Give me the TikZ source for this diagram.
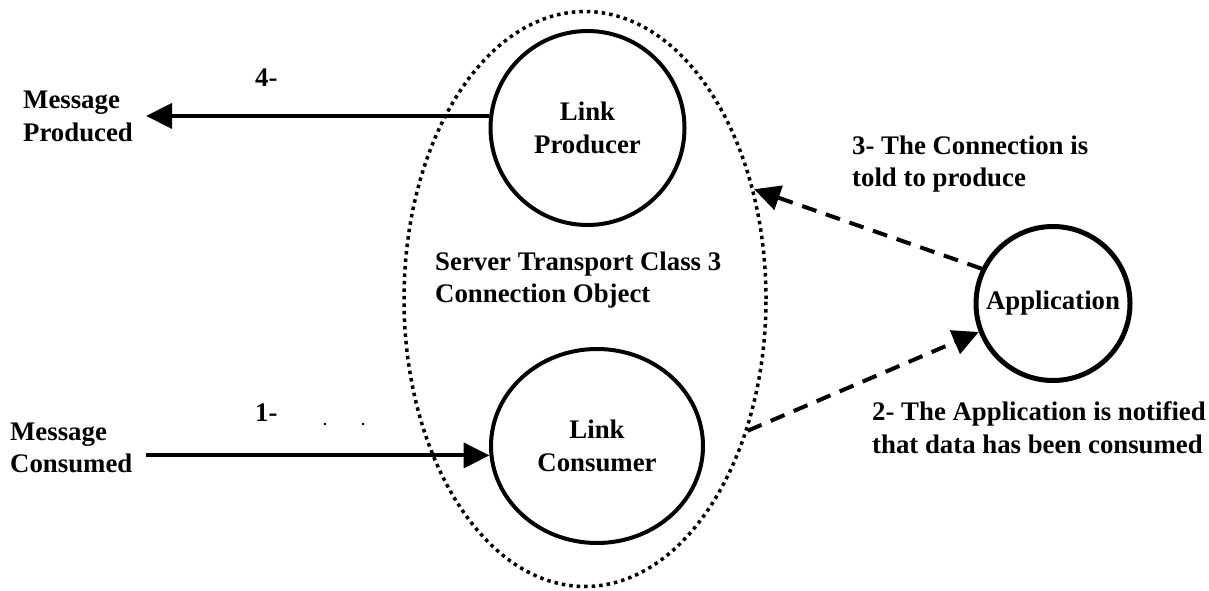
\documentclass[tikz,border=0pt]{standalone}
\usepackage{fontspec}
\setmainfont{Liberation Serif}
\usetikzlibrary{shapes.geometric}
\usetikzlibrary{arrows.meta}
\tikzset{	every node/.style={
		font=\fontsize{26.8pt}{32.5pt}\selectfont\bfseries},
	link/.style={
		draw, ellipse,
		line width=4pt,
		outer sep=2pt,
		align=center},
	txt/.style={inner sep=0pt, align=left, anchor=base west},
	msg/.style={txt, inner xsep=13pt},
	flow/.style={
		draw,
		line width=4pt,
		-{Triangle[length=26pt,width=25pt]}},
	signal/.style={flow, dash pattern=on 15pt off 10pt}
}

\begin{document}
\begin{tikzpicture}[x=1pt, y=-1pt]
	\useasboundingbox (0,0) rectangle (1209,591);
	\node[draw, ellipse, line width=3.5pt, dash pattern=on 3.5pt off 4pt, outer sep=1.75pt,
		minimum width=362pt, minimum height=575pt] (STC) at (585,299) {};
	\node[link, minimum width=194pt, minimum height=194pt] (LP) at (587.5,128) {Link\\Producer};
	\node[link, minimum width=212pt, minimum height=194pt] (LC) at (597,446) {Link\\Consumer};
	\node[link, circle, inner sep=0pt, line width=5pt, outer sep=2.5pt,
		minimum size=154pt] (App) at (1053,303.5) {Application};
	% two-line labels sit on the baseline of their last line
	\node[txt] (STCname) at (435,302.5) {Server Transport Class 3\\Connection Object};
	\node[msg] (MP) at (10,141.5) {Message\\Produced};
	\node[msg] (MC) at (-3,472.5) {Message\\Consumed};
	\node[txt] (S4) at (255,86.5) {4-};
	\node[txt] (S1) at (255,421.7) {1-};
	\node[txt] (S3) at (852,186.5) {3- The Connection is\\told to produce};
	\node[txt] (S2) at (872,453) {2- The Application is notified\\that data has been consumed};
	\draw (LP.173) edge[flow] (LP.173 -| MP.east);
	\draw (MC.east |- LC.185.3) edge[flow] (LC.185.3);
	\draw (App.154.7) edge[signal] (STC.33.5);
	\draw (STC.321.9) edge[signal] (App.201.9);
	\fill (324,423) rectangle (326,425);
	\fill (362,423) rectangle (364,425);
\end{tikzpicture}
\end{document}
